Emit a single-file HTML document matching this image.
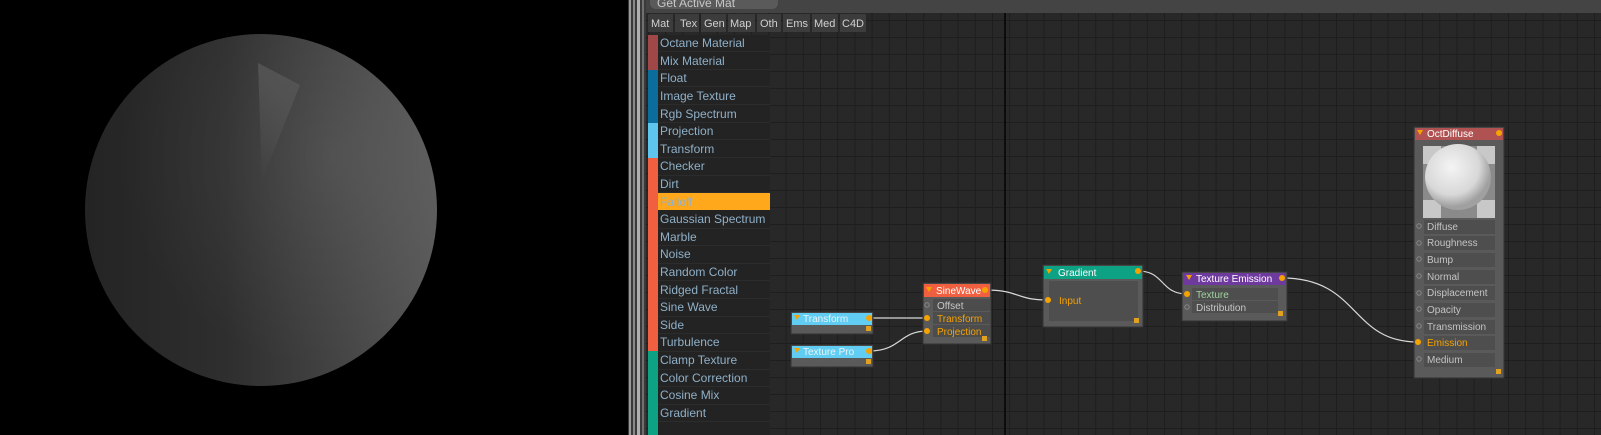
<!DOCTYPE html>
<html><head><meta charset="utf-8"><style>
html,body{margin:0;padding:0;background:#000;}
svg{display:block;font-family:"Liberation Sans","DejaVu Sans",sans-serif;}
</style></head><body>
<svg width="1601" height="435" viewBox="0 0 1601 435" xmlns="http://www.w3.org/2000/svg">
<defs>
<pattern id="grid" x="992" y="105" width="17.2" height="17" patternUnits="userSpaceOnUse">
<rect width="17.2" height="17" fill="#282828"/>
<rect width="1" height="17" fill="#1e1e1e"/><rect width="17.2" height="1" fill="#1e1e1e"/>
</pattern>
<linearGradient id="sph" x1="0" y1="0" x2="1" y2="0">
<stop offset="0" stop-color="#242424"/><stop offset="0.4" stop-color="#2e2e2e"/><stop offset="1" stop-color="#575757"/>
</linearGradient>
<radialGradient id="sph2" cx="0.7" cy="0.35" r="0.6">
<stop offset="0" stop-color="#fff" stop-opacity="0.08"/><stop offset="1" stop-color="#fff" stop-opacity="0"/>
</radialGradient>
<radialGradient id="wedge" cx="258" cy="63" r="120" gradientUnits="userSpaceOnUse">
<stop offset="0" stop-color="#fff" stop-opacity="0.12"/><stop offset="1" stop-color="#fff" stop-opacity="0"/>
</radialGradient>
<radialGradient id="osph" cx="0.4" cy="0.35" r="0.6">
<stop offset="0" stop-color="#f4f4f4"/><stop offset="0.7" stop-color="#d8d8d8"/><stop offset="1" stop-color="#a0a0a0"/>
</radialGradient>
</defs>
<rect width="1601" height="435" fill="#000"/>
<circle cx="261" cy="210" r="176" fill="url(#sph)"/>
<circle cx="261" cy="210" r="176" fill="url(#sph2)"/>
<path d="M258 63 L300 85 L262 180 Z" fill="url(#wedge)"/>
<rect x="628" y="0" width="18" height="435" fill="#3a3a3a"/>
<rect x="629" y="0" width="2" height="435" fill="#9a9a9a"/>
<rect x="633" y="0" width="2" height="435" fill="#8a8a8a"/>
<rect x="637" y="0" width="3" height="435" fill="#b0b0b0"/>
<rect x="642" y="0" width="2" height="435" fill="#707070"/>
<rect x="646" y="13" width="955" height="422" fill="url(#grid)"/>
<rect x="1004" y="13" width="2" height="422" fill="#0c0c0c"/>
<rect x="646" y="0" width="955" height="13" fill="#444"/>
<rect x="650" y="-6" width="128" height="15" rx="6" fill="#5a5a5a"/>
<text x="657" y="7" font-size="12" fill="#c8c8c8">Get Active Mat</text>
<g font-size="11" fill="#d0d0d0">
<rect x="648" y="14" width="25" height="18" fill="#3c3c3c"/><text x="651" y="27">Mat</text>
<rect x="675" y="14" width="24" height="18" fill="#3c3c3c"/><text x="680" y="27">Tex</text>
<rect x="701" y="14" width="25" height="18" fill="#3c3c3c"/><text x="704" y="27">Gen</text>
<rect x="728" y="14" width="27" height="18" fill="#3c3c3c"/><text x="730" y="27">Map</text>
<rect x="757" y="14" width="24" height="18" fill="#3c3c3c"/><text x="760" y="27">Oth</text>
<rect x="783" y="14" width="27" height="18" fill="#3c3c3c"/><text x="786" y="27">Ems</text>
<rect x="812" y="14" width="26" height="18" fill="#3c3c3c"/><text x="814" y="27">Med</text>
<rect x="840" y="14" width="26" height="18" fill="#3c3c3c"/><text x="842" y="27">C4D</text>
</g>
<g font-size="12" fill="#8fb0c8">
<rect x="648" y="35" width="122" height="400" fill="#232323"/>
<rect x="648" y="35" width="10" height="35" fill="#a04848"/>
<rect x="648" y="70" width="10" height="53" fill="#0a6d9c"/>
<rect x="648" y="123" width="10" height="35" fill="#5ec6ee"/>
<rect x="648" y="158" width="10" height="193" fill="#f06040"/>
<rect x="648" y="351" width="10" height="84" fill="#0ea285"/>
<rect x="658" y="193" width="112" height="17" fill="#ffa81c"/>
<g fill="#2c2c2c">
<rect x="658" y="51" width="112" height="1"/><rect x="658" y="69" width="112" height="1"/><rect x="658" y="86" width="112" height="1"/><rect x="658" y="104" width="112" height="1"/><rect x="658" y="122" width="112" height="1"/><rect x="658" y="139" width="112" height="1"/><rect x="658" y="157" width="112" height="1"/><rect x="658" y="175" width="112" height="1"/><rect x="658" y="192" width="112" height="1"/><rect x="658" y="228" width="112" height="1"/><rect x="658" y="245" width="112" height="1"/><rect x="658" y="263" width="112" height="1"/><rect x="658" y="280" width="112" height="1"/><rect x="658" y="298" width="112" height="1"/><rect x="658" y="316" width="112" height="1"/><rect x="658" y="333" width="112" height="1"/><rect x="658" y="351" width="112" height="1"/><rect x="658" y="369" width="112" height="1"/><rect x="658" y="386" width="112" height="1"/><rect x="658" y="404" width="112" height="1"/><rect x="658" y="421" width="112" height="1"/>
</g>
<text x="660" y="47">Octane Material</text>
<text x="660" y="65">Mix Material</text>
<text x="660" y="82">Float</text>
<text x="660" y="100">Image Texture</text>
<text x="660" y="118">Rgb Spectrum</text>
<text x="660" y="135">Projection</text>
<text x="660" y="153">Transform</text>
<text x="660" y="170">Checker</text>
<text x="660" y="188">Dirt</text>
<text x="660" y="206">Falloff</text>
<text x="660" y="223">Gaussian Spectrum</text>
<text x="660" y="241">Marble</text>
<text x="660" y="258">Noise</text>
<text x="660" y="276">Random Color</text>
<text x="660" y="294">Ridged Fractal</text>
<text x="660" y="311">Sine Wave</text>
<text x="660" y="329">Side</text>
<text x="660" y="346">Turbulence</text>
<text x="660" y="364">Clamp Texture</text>
<text x="660" y="382">Color Correction</text>
<text x="660" y="399">Cosine Mix</text>
<text x="660" y="417">Gradient</text>
</g>
<g fill="none" stroke="#d8d8d8" stroke-width="1.2">
<path d="M870 318 C900 318 900 318 927 318"/>
<path d="M870 351 C900 351 900 331 927 331"/>
<path d="M985 290 C1020 290 1015 300 1048 300"/>
<path d="M1138 271 C1165 271 1160 294 1187 294"/>
<path d="M1282 278 C1360 278 1350 342 1418 342"/>
</g>
<g font-size="10">
<rect x="791" y="312" width="82" height="22" fill="#5a5a5a" stroke="#333"/>
<rect x="792" y="313" width="80" height="12" fill="#62cdf2"/>
<text x="803" y="322" fill="#e8f4fa">Transform</text>
<path d="M794 315 h6 l-3 5z" fill="#f5a300"/>
<circle cx="869" cy="318" r="3" fill="#f5a300"/>
<rect x="791" y="345" width="82" height="22" fill="#5a5a5a" stroke="#333"/>
<rect x="792" y="346" width="80" height="12" fill="#62cdf2"/>
<text x="803" y="355" fill="#e8f4fa">Texture Pro</text>
<path d="M794 348 h6 l-3 5z" fill="#f5a300"/>
<circle cx="869" cy="351" r="3" fill="#f5a300"/>
<rect x="923" y="283" width="68" height="61" fill="#5a5a5a" stroke="#333"/>
<rect x="924" y="284" width="66" height="13" fill="#f06040"/>
<text x="936" y="294" fill="#fff">SineWave</text>
<path d="M926 287 h6 l-3 5z" fill="#f5a300"/>
<circle cx="985" cy="290" r="3" fill="#f5a300"/>
<rect x="933" y="299" width="57" height="12" fill="#4c4c4c"/>
<rect x="933" y="312" width="57" height="12" fill="#4c4c4c"/>
<rect x="933" y="325" width="57" height="12" fill="#4c4c4c"/>
<text x="937" y="309" fill="#c8c8c8">Offset</text>
<text x="937" y="322" fill="#f5a300">Transform</text>
<text x="937" y="335" fill="#f5a300">Projection</text>
<circle cx="927" cy="305" r="2.2" fill="none" stroke="#888"/>
<circle cx="927" cy="318" r="3" fill="#f5a300"/>
<circle cx="927" cy="331" r="3" fill="#f5a300"/>
<rect x="1043" y="265" width="100" height="62" fill="#5a5a5a" stroke="#333"/>
<rect x="1044" y="266" width="98" height="13" fill="#0ea285"/>
<text x="1058" y="276" fill="#fff">Gradient</text>
<path d="M1046 269 h6 l-3 5z" fill="#f5a300"/>
<circle cx="1138" cy="271" r="3" fill="#f5a300"/>
<rect x="1049" y="281" width="89" height="40" fill="#4e4e4e"/>
<text x="1059" y="304" fill="#f5a300">Input</text>
<circle cx="1048" cy="300" r="3" fill="#f5a300"/>
<rect x="1182" y="272" width="105" height="49" fill="#5a5a5a" stroke="#333"/>
<rect x="1183" y="273" width="103" height="12" fill="#6f3a9e"/>
<text x="1196" y="282" fill="#fff">Texture Emission</text>
<path d="M1186 275 h6 l-3 5z" fill="#f5a300"/>
<circle cx="1282" cy="278" r="3" fill="#f5a300"/>
<rect x="1192" y="288" width="86" height="12" fill="#4e4e4e"/>
<rect x="1192" y="301" width="86" height="12" fill="#4e4e4e"/>
<text x="1196" y="298" fill="#9fd49f">Texture</text>
<text x="1196" y="311" fill="#c8c8c8">Distribution</text>
<circle cx="1187" cy="294" r="3" fill="#f5a300"/>
<circle cx="1187" cy="307" r="2.2" fill="none" stroke="#888"/>
<rect x="1414" y="127" width="90" height="251" fill="#5a5a5a" stroke="#333"/>
<rect x="1415" y="128" width="88" height="12" fill="#b05252"/>
<text x="1427" y="137" fill="#fff">OctDiffuse</text>
<path d="M1417 130 h6 l-3 5z" fill="#f5a300"/>
<circle cx="1499" cy="133" r="3" fill="#f5a300"/>
<rect x="1423" y="146" width="72" height="72" fill="#8a8a8a"/>
<rect x="1423" y="146" width="18" height="18" fill="#c8c8c8"/><rect x="1477" y="146" width="18" height="18" fill="#c8c8c8"/>
<rect x="1423" y="200" width="18" height="18" fill="#c8c8c8"/><rect x="1477" y="200" width="18" height="18" fill="#c8c8c8"/>
<circle cx="1458" cy="177" r="33" fill="url(#osph)"/>
<g fill="#4e4e4e">
<rect x="1424" y="220" width="71" height="14"/><rect x="1424" y="236" width="71" height="14"/><rect x="1424" y="253" width="71" height="14"/><rect x="1424" y="270" width="71" height="14"/><rect x="1424" y="286" width="71" height="14"/><rect x="1424" y="303" width="71" height="14"/><rect x="1424" y="320" width="71" height="14"/><rect x="1424" y="336" width="71" height="14"/><rect x="1424" y="353" width="71" height="14"/>
</g>
<g fill="#c4c4c4">
<text x="1427" y="230">Diffuse</text><text x="1427" y="246">Roughness</text><text x="1427" y="263">Bump</text><text x="1427" y="280">Normal</text><text x="1427" y="296">Displacement</text><text x="1427" y="313">Opacity</text><text x="1427" y="330">Transmission</text><text x="1427" y="346" fill="#f5a300">Emission</text><text x="1427" y="363">Medium</text>
</g>
<g fill="none" stroke="#888">
<circle cx="1419" cy="226" r="2.2"/><circle cx="1419" cy="243" r="2.2"/><circle cx="1419" cy="259" r="2.2"/><circle cx="1419" cy="276" r="2.2"/><circle cx="1419" cy="293" r="2.2"/><circle cx="1419" cy="309" r="2.2"/><circle cx="1419" cy="326" r="2.2"/><circle cx="1419" cy="359" r="2.2"/>
</g>
<circle cx="1418" cy="342" r="3" fill="#f5a300"/>
<g fill="#e0a020">
<rect x="866" y="326" width="5" height="5"/><rect x="866" y="359" width="5" height="5"/><rect x="982" y="336" width="5" height="5"/><rect x="1134" y="318" width="5" height="5"/><rect x="1278" y="311" width="5" height="5"/><rect x="1496" y="369" width="5" height="5"/>
</g>
</g>
</svg>
</body></html>
